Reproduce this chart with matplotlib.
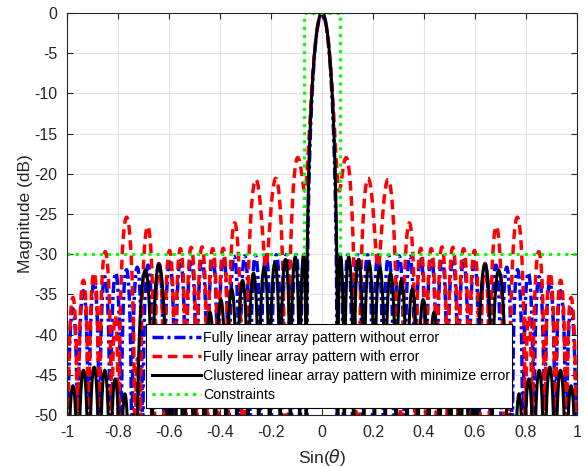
import numpy as np
import matplotlib.pyplot as plt

# ---- array description ----
N_ELEM = 48            # number of elements
SPACING = 0.5          # element spacing in wavelengths
SLL_DB = 30            # Chebyshev side-lobe level (dB below peak)
CLUSTER_SIZE = 3       # elements per cluster in the clustered array
ELEM_EXP = 0.25        # element pattern (1 - u^2)^ELEM_EXP

# relative amplitude error of the fully excited array (spatial frequency
# in sin(theta), error amplitude, length of the Hann-weighted error region)
ERR_U = [0.075, 0.22, 0.75]
ERR_AMP = [0.22, 0.36, 0.15]
ERR_LEN = [48, 24, 28]

# constraint mask
MASK_U = [-1.0, -0.07, -0.07, 0.07, 0.07, 1.0]
MASK_DB = [-30.0, -30.0, 0.0, 0.0, -30.0, -30.0]

X_TICKS = [-1, -0.8, -0.6, -0.4, -0.2, 0, 0.2, 0.4, 0.6, 0.8, 1]
X_TICKLABELS = ['-1', '-0.8', '-0.6', '-0.4', '-0.2', '0', '0.2', '0.4', '0.6', '0.8', '1']
Y_TICKS = [0, -5, -10, -15, -20, -25, -30, -35, -40, -45, -50]
Y_TICKLABELS = ['0', '-5', '-10', '-15', '-20', '-25', '-30', '-35', '-40', '-45', '-50']

LEGEND_LABELS = ['Fully linear array pattern without error',
                 'Fully linear array pattern with error',
                 'Clustered linear array pattern with minimize error',
                 'Constraints']


def chebyshev_weights(m, at):
    order = m - 1.0
    beta = np.cosh(np.arccosh(10 ** (abs(at) / 20.0)) / order)
    k = np.arange(m)
    x = beta * np.cos(np.pi * k / m)
    p = np.zeros(x.shape)
    p[x > 1] = np.cosh(order * np.arccosh(x[x > 1]))
    p[x < -1] = (2 * (m % 2) - 1) * np.cosh(order * np.arccosh(-x[x < -1]))
    inside = np.abs(x) <= 1
    p[inside] = np.cos(order * np.arccos(x[inside]))
    if m % 2:
        w = np.real(np.fft.fft(p))
        n = (m + 1) // 2
        w = w[:n]
        w = np.concatenate((w[n - 1:0:-1], w))
    else:
        p = p * np.exp(1j * np.pi / m * np.arange(m))
        w = np.real(np.fft.fft(p))
        n = m // 2 + 1
        w = np.concatenate((w[n - 1:0:-1], w[1:n]))
    return w / w.max()


u = np.linspace(-1, 1, 6001)
pos = np.arange(N_ELEM) - (N_ELEM - 1) / 2.0
steer = np.exp(1j * 2 * np.pi * SPACING * np.outer(u, pos))
elem = np.clip(1 - u ** 2, 0, None) ** ELEM_EXP


def pattern_db(weights):
    af = np.abs(steer @ weights) * elem
    af = af / af.max()
    return 20 * np.log10(np.maximum(af, 1e-8))


# fully excited array
w_full = chebyshev_weights(N_ELEM, SLL_DB)

# same array with amplitude errors
err = np.zeros(N_ELEM)
for fu, amp, ln in zip(ERR_U, ERR_AMP, ERR_LEN):
    if ln >= N_ELEM:
        win = np.ones(N_ELEM)
    else:
        win = np.where(np.abs(pos) < ln / 2.0,
                       0.5 * (1 + np.cos(2 * np.pi * pos / ln)), 0.0)
    err += amp * np.cos(2 * np.pi * SPACING * pos * fu) * win
w_err = w_full * (1 + err)

# clustered array: contiguous groups share one amplitude
n_clu = N_ELEM // CLUSTER_SIZE
w_clu = np.repeat(chebyshev_weights(n_clu, SLL_DB), CLUSTER_SIZE)

p_full = pattern_db(w_full)
p_err = pattern_db(w_err)
p_clu = pattern_db(w_clu)

plt.rcParams['font.family'] = ['Liberation Sans', 'DejaVu Sans']
plt.rcParams['axes.unicode_minus'] = False
fig = plt.figure(figsize=(5.85, 4.67), dpi=100)
ax = fig.add_axes([0.1145, 0.1113, 0.8718, 0.8609])

l1, = ax.plot(u, p_full, color=(0, 0, 1), ls=(0, (3.2, 1.1, 0.9, 1.1)), lw=2.5)
l2, = ax.plot(u, p_err, color=(1, 0, 0), ls=(0, (2.8, 1.6)), lw=2.5)
l3, = ax.plot(u, p_clu, color='black', ls='-', lw=2.2)
l4, = ax.plot(MASK_U, MASK_DB, color=(0, 1, 0), ls=':', lw=2.2)

ax.set_xlim(-1, 1)
ax.set_ylim(-50, 0)
ax.set_xticks(X_TICKS)
ax.set_xticklabels(X_TICKLABELS)
ax.set_yticks(Y_TICKS)
ax.set_yticklabels(Y_TICKLABELS)
ax.tick_params(direction='in', top=True, right=True, labelsize=11.5, length=4,
               colors='#262626', width=0.8, pad=7)
ax.grid(True, color='#e3e3e3', lw=0.8)
ax.set_axisbelow(True)
for s in ax.spines.values():
    s.set_color('#262626')
    s.set_linewidth(0.8)
ax.set_xlabel(r'Sin($\theta$)', fontsize=12.5, color='#262626', labelpad=5)
ax.set_ylabel('Magnitude (dB)', fontsize=12.5, color='#262626', labelpad=1)

leg = ax.legend([l1, l2, l3, l4], LEGEND_LABELS, loc='lower left',
                bbox_to_anchor=(0.155, 0.017, 0.718, 0.202), mode='expand',
                fontsize=10.2, fancybox=False, framealpha=1, edgecolor='black',
                handlelength=3.4, handletextpad=0.2, borderaxespad=0,
                labelspacing=0.36, borderpad=0.45)
leg.get_frame().set_linewidth(0.8)

fig.savefig('out.png', dpi=100)
